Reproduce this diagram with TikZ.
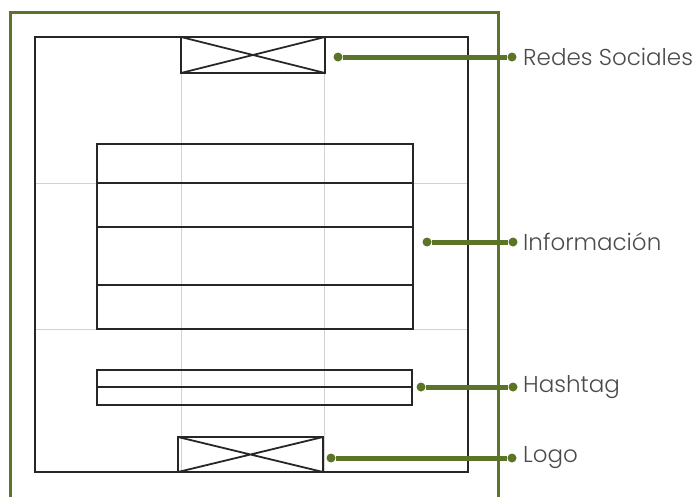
\documentclass[tikz,border=0pt]{standalone}
\usepackage{fontspec}
\newfontfamily\labfont{Poppins Light}
\definecolor{leaf}{RGB}{92,116,40}
\definecolor{labgray}{RGB}{75,75,75}
\definecolor{gridgray}{RGB}{210,210,210}
\begin{document}
\begin{tikzpicture}[x=1pt,y=-1pt,
  sketch/.style={draw=black!85,line width=1.8pt},
  gridline/.style={draw=gridgray,line width=0.7pt},
  frame/.style={draw=leaf,line width=3pt},
  conn/.style={draw=leaf,line width=5pt},
  dot/.style={circle,fill=leaf,inner sep=0pt,minimum size=9pt},
  lab/.style={anchor=west,font=\labfont\fontsize{23}{26}\selectfont,text=labgray,inner sep=0pt}]
\useasboundingbox (0,0) rectangle (699,496);
% green frame (bottom edge outside image)
\draw[frame] (10,505) -- (10,12) -- (498,12) -- (498,505);
% light grid
\draw[gridline] (181,37) -- (181,472);
\draw[gridline] (324,37) -- (324,472);
\draw[gridline] (35,183) -- (468,183);
\draw[gridline] (35,329) -- (468,329);
% outer page
\draw[sketch] (35,37) rectangle (468,472);
% top social box
\draw[sketch] (181,37) rectangle (325,73);
\draw[sketch] (181,37) -- (325,73) (181,73) -- (325,37);
% information block
\draw[sketch] (97,144) rectangle (413,329);
\draw[sketch] (97,183) -- (413,183);
\draw[sketch] (97,227) -- (413,227);
\draw[sketch] (97,285) -- (413,285);
% hashtag
\draw[sketch] (97,370) rectangle (412,405);
\draw[sketch] (97,387) -- (412,387);
% logo
\draw[sketch] (178,437) rectangle (323,472);
\draw[sketch] (178,437) -- (323,472) (178,472) -- (323,437);
% connectors
\node[dot] (rsa) at (338,57) {};
\node[dot] (rsb) at (512,57) {};
\draw[conn] (rsa) -- (rsb);
\node[lab] (rsl) at (523,57) {Redes Sociales};
\node[dot] (ina) at (427,242) {};
\node[dot] (inb) at (513,242) {};
\draw[conn] (ina) -- (inb);
\node[lab] (inl) at (523,242) {Información};
\node[dot] (hsa) at (421,387) {};
\node[dot] (hsb) at (513,387) {};
\draw[conn] (hsa) -- (hsb);
\node[lab] (hsl) at (523,387) {Hashtag};
\node[dot] (loa) at (331,458) {};
\node[dot] (lob) at (512,458) {};
\draw[conn] (loa) -- (lob);
\node[lab] (lol) at (523,458) {Logo};
\end{tikzpicture}
\end{document}
